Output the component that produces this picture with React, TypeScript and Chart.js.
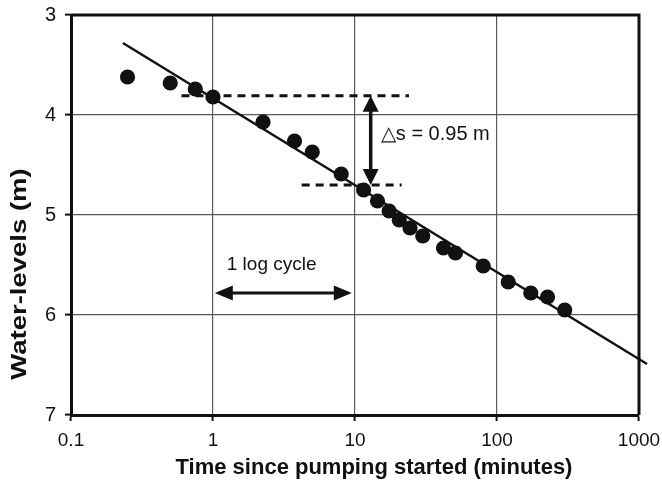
import { useEffect, useRef } from "react";
import { Chart, registerables } from "chart.js";

Chart.register(...registerables);

// ---- data ----
const timeMinutes = [0.25, 0.5, 0.75, 1, 2.25, 3.75, 5, 8, 11.5, 14.4, 17.4, 20.5, 24.4, 30, 42, 51, 80, 120, 173, 227, 300];
const waterLevels = [3.62, 3.68, 3.74, 3.82, 4.07, 4.26, 4.37, 4.59, 4.75, 4.86, 4.96, 5.05, 5.13, 5.21, 5.33, 5.38, 5.51, 5.67, 5.78, 5.82, 5.95];

const fitLineX = [0.232, 1138];
const fitLineY = [3.28, 6.49];

const upperDashX = [0.6, 24];
const upperDashY = 3.807;
const lowerDashX = [4.21, 21.3];
const lowerDashY = 4.7;

const deltaArrowX = 12.9;
const deltaArrowY = [3.807, 4.7];
const cycleArrowX = [1.03, 9.5];
const cycleArrowY = 5.78;

const deltaLabel = "\u25B3s = 0.95 m";
const deltaLabelPos = [15.2, 4.19];
const cycleLabel = "1 log cycle";
const cycleLabelPos = [1.25, 5.5];

const xTickValues = [0.1, 1, 10, 100, 1000];
const yMin = 3;
const yMax = 7;
const xTitle = "Time since pumping started (minutes)";
const yTitle = "Water-levels (m)";

const FONT = "'Liberation Sans', Arial, Helvetica, sans-serif";
const INK = "#111111";

function drawArrow(ctx: CanvasRenderingContext2D, x1: number, y1: number, x2: number, y2: number, headLen: number, headW: number, lw: number) {
  const dx = x2 - x1;
  const dy = y2 - y1;
  const len = Math.hypot(dx, dy);
  const ux = dx / len;
  const uy = dy / len;
  const px = -uy;
  const py = ux;
  ctx.save();
  ctx.strokeStyle = INK;
  ctx.fillStyle = INK;
  ctx.lineWidth = lw;
  ctx.beginPath();
  ctx.moveTo(x1 + ux * headLen * 0.9, y1 + uy * headLen * 0.9);
  ctx.lineTo(x2 - ux * headLen * 0.9, y2 - uy * headLen * 0.9);
  ctx.stroke();
  const head = (tx: number, ty: number, dirx: number, diry: number) => {
    ctx.beginPath();
    ctx.moveTo(tx, ty);
    ctx.lineTo(tx - dirx * headLen + px * headW / 2, ty - diry * headLen + py * headW / 2);
    ctx.lineTo(tx - dirx * headLen - px * headW / 2, ty - diry * headLen - py * headW / 2);
    ctx.closePath();
    ctx.fill();
  };
  head(x2, y2, ux, uy);
  head(x1, y1, -ux, -uy);
  ctx.restore();
}

const zeroPad = (scale: any) => {
  scale.paddingTop = 0;
  scale.paddingBottom = 0;
  scale.paddingLeft = 0;
  scale.paddingRight = 0;
};

const decorPlugin = {
  id: "decor",
  beforeDatasetsDraw(chart: any) {
    const { ctx, chartArea } = chart;
    ctx.save();
    ctx.strokeStyle = INK;
    ctx.lineWidth = 3;
    ctx.beginPath();
    ctx.moveTo(chartArea.left, chartArea.top);
    ctx.lineTo(chartArea.right, chartArea.top);
    ctx.lineTo(chartArea.right, chartArea.bottom);
    ctx.stroke();
    ctx.restore();
  },
  afterDraw(chart: any) {
    const { ctx } = chart;
    const xs = chart.scales.x;
    const ys = chart.scales.y;
    // arrows
    drawArrow(ctx, xs.getPixelForValue(deltaArrowX), ys.getPixelForValue(deltaArrowY[0]), xs.getPixelForValue(deltaArrowX), ys.getPixelForValue(deltaArrowY[1]), 16, 16, 3.5);
    drawArrow(ctx, xs.getPixelForValue(cycleArrowX[0]), ys.getPixelForValue(cycleArrowY), xs.getPixelForValue(cycleArrowX[1]), ys.getPixelForValue(cycleArrowY), 18, 15, 3);
    // labels
    ctx.save();
    ctx.fillStyle = INK;
    ctx.textBaseline = "middle";
    ctx.textAlign = "left";
    ctx.font = `19px ${FONT}`;
    ctx.fillText(cycleLabel, xs.getPixelForValue(cycleLabelPos[0]), ys.getPixelForValue(cycleLabelPos[1]));
    ctx.font = `20px ${FONT}`;
    ctx.fillText(deltaLabel, xs.getPixelForValue(deltaLabelPos[0]), ys.getPixelForValue(deltaLabelPos[1]));
    // axis titles
    ctx.font = `bold 22px ${FONT}`;
    ctx.textAlign = "center";
    ctx.fillText(xTitle, 374, 468);
    ctx.translate(20, 274);
    ctx.rotate(-Math.PI / 2);
    ctx.scale(1.25, 1);
    ctx.fillText(yTitle, 0, 0);
    ctx.restore();
  },
};

export default function App() {
  const ref = useRef<HTMLCanvasElement | null>(null);
  useEffect(() => {
    if (!ref.current) return;
    const chart = new Chart(ref.current, {
      type: "scatter",
      data: {
        datasets: [
          {
            type: "line",
            data: fitLineX.map((x, i) => ({ x, y: fitLineY[i] })),
            borderColor: INK,
            borderWidth: 2.5,
            pointRadius: 0,
            clip: false,
            order: 2,
          } as any,
          {
            type: "line",
            data: upperDashX.map((x) => ({ x, y: upperDashY })),
            borderColor: INK,
            borderWidth: 3,
            borderDash: [8, 6],
            pointRadius: 0,
            order: 2,
          } as any,
          {
            type: "line",
            data: lowerDashX.map((x) => ({ x, y: lowerDashY })),
            borderColor: INK,
            borderWidth: 3,
            borderDash: [8, 6],
            pointRadius: 0,
            order: 2,
          } as any,
          {
            type: "scatter",
            data: timeMinutes.map((x, i) => ({ x, y: waterLevels[i] })),
            backgroundColor: INK,
            borderColor: INK,
            borderWidth: 0,
            pointRadius: 7.6,
            order: 1,
          },
        ],
      },
      options: {
        animation: false,
        responsive: false,
        events: [],
        layout: { padding: { top: 15, right: 23, left: 0, bottom: 0 } },
        plugins: { legend: { display: false }, tooltip: { enabled: false } },
        scales: {
          x: {
            type: "logarithmic",
            min: 0.1,
            max: 1000,
            afterBuildTicks: (scale: any) => {
              scale.ticks = xTickValues.map((v) => ({ value: v, major: true }));
            },
            afterFit: (scale: any) => {
              scale.height = 72;
              zeroPad(scale);
            },
            ticks: {
              autoSkip: false,
              maxRotation: 0,
              padding: 8,
              color: INK,
              font: { family: FONT, size: 19 },
              callback: (v: any) => String(v),
            },
            grid: { color: "#5a5a5a", lineWidth: 1.2, tickColor: INK, tickLength: 6, tickWidth: 2 },
            border: { color: INK, width: 3 },
          },
          y: {
            type: "linear",
            min: yMin,
            max: yMax,
            reverse: true,
            afterFit: (scale: any) => {
              scale.width = 71;
              zeroPad(scale);
            },
            ticks: {
              stepSize: 1,
              padding: 9,
              color: INK,
              font: { family: FONT, size: 20 },
            },
            grid: { color: "#5a5a5a", lineWidth: 1.2, tickColor: INK, tickLength: 6, tickWidth: 2 },
            border: { color: INK, width: 3 },
          },
        },
      },
      plugins: [decorPlugin],
    });
    return () => chart.destroy();
  }, []);
  return (
    <div style={{ position: "absolute", left: 0, top: 0, width: 662, height: 487, background: "#fff" }}>
      <canvas ref={ref} width={662} height={487} />
    </div>
  );
}
